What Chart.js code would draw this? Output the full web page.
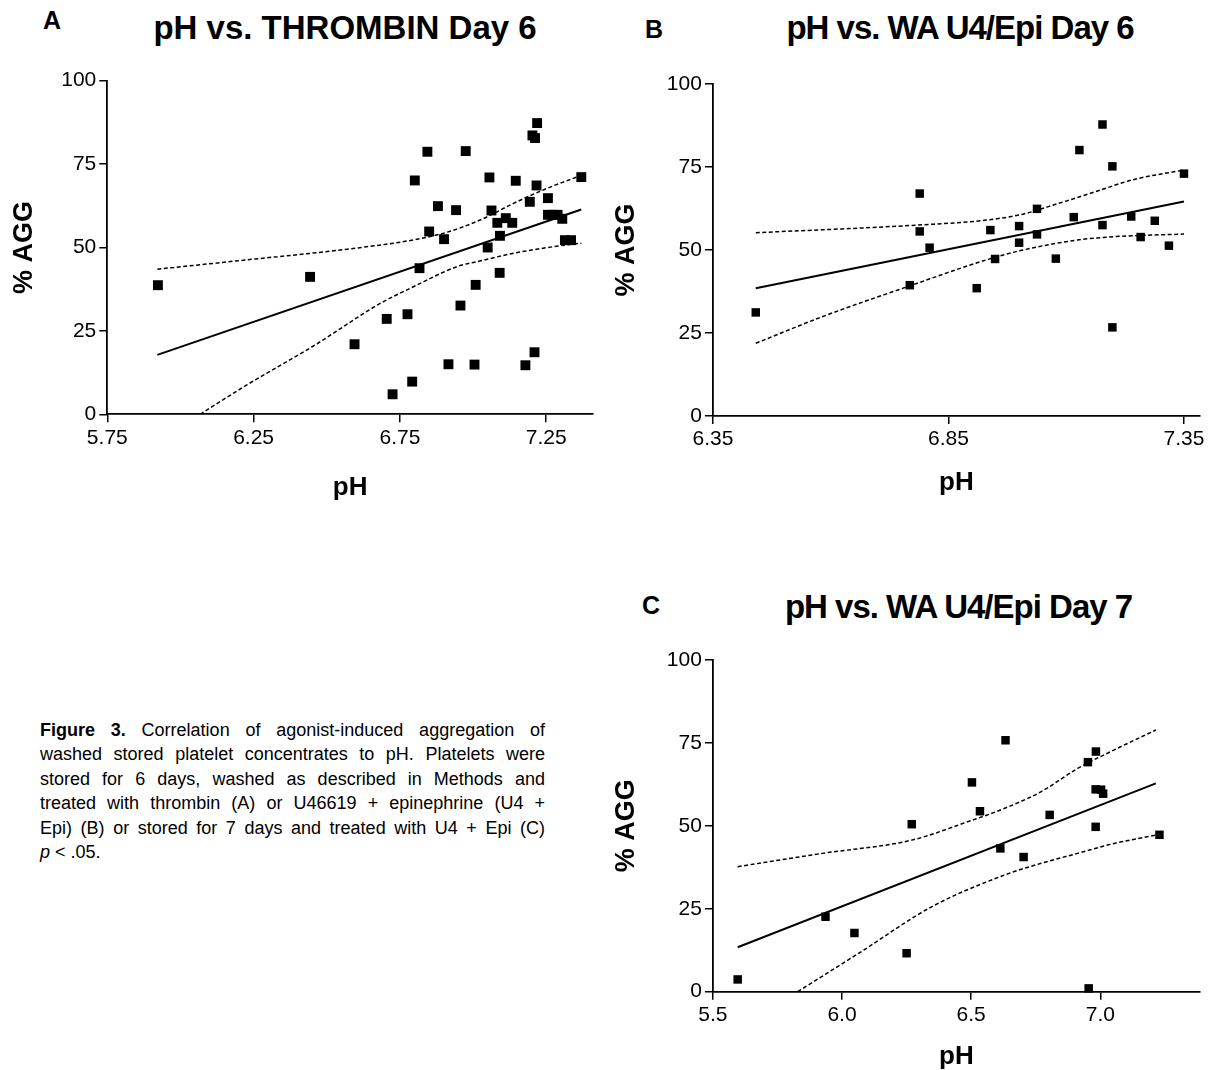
<!DOCTYPE html>
<html>
<head>
<meta charset="utf-8">
<title>pH vs. % AGG</title>
<script src="https://cdn.jsdelivr.net/npm/chart.js@4.4.1/dist/chart.umd.min.js"></script>
<style>
  html, body { margin: 0; padding: 0; background: #fff; }
  body { width: 1209px; height: 1070px; position: relative; overflow: hidden;
         font-family: 'Liberation Sans', Arial, Helvetica, sans-serif; color: #000; }
  canvas { position: absolute; }
  .ttl { position: absolute; font-size: 33px; font-weight: bold; line-height: 33px;
         white-space: nowrap; transform: translateX(-50%); }
  .ttl.tight { letter-spacing: -1px; }
  .lbl { position: absolute; font-weight: bold; font-size: 25px; line-height: 1; }
  #caption { position: absolute; left: 40px; top: 717.7px; width: 505px;
             font-size: 18px; line-height: 24.5px; }
  #caption div { text-align: justify; text-align-last: justify; }
  #caption div.last { text-align-last: left; }
</style>
</head>
<body>

<div class="lbl" style="left:43px; top:7.7px;">A</div>
<div class="ttl" style="left:345px; top:10.7px;">pH vs. THROMBIN Day 6</div>
<canvas id="chartA" width="603" height="510" style="left:0; top:0;"></canvas>

<div class="lbl" style="left:645px; top:16.7px;">B</div>
<div class="ttl tight" style="left:960px; top:10.7px;">pH vs. WA U4/Epi Day 6</div>
<canvas id="chartB" width="609" height="470" style="left:600px; top:40px;"></canvas>

<div class="lbl" style="left:642px; top:592.7px;">C</div>
<div class="ttl tight" style="left:958.5px; top:589.7px;">pH vs. WA U4/Epi Day 7</div>
<canvas id="chartC" width="609" height="450" style="left:600px; top:620px;"></canvas>

<div id="caption">
  <div><b>Figure 3.</b> Correlation of agonist-induced aggregation of</div>
  <div>washed stored platelet concentrates to pH. Platelets were</div>
  <div>stored for 6 days, washed as described in Methods and</div>
  <div>treated with thrombin (A) or U46619 + epinephrine (U4 +</div>
  <div>Epi) (B) or stored for 7 days and treated with U4 + Epi (C)</div>
  <div class="last"><i>p</i> &lt; .05.</div>
</div>

<script>
// ---- panel A: thrombin, day 6 ----
const phA  = [5.923, 6.443, 6.595, 6.705, 6.725, 6.776, 6.792, 6.801, 6.817, 6.844,
              6.850, 6.880, 6.901, 6.916, 6.942, 6.957, 6.975, 7.005, 7.009, 7.050,
              7.056, 7.063, 7.083, 7.091, 7.092, 7.112, 7.134, 7.146, 7.179, 7.194,
              7.210, 7.217, 7.219, 7.203, 7.212, 7.256, 7.256, 7.272, 7.289, 7.305,
              7.314, 7.335, 7.370];
const aggA = [38.7, 41.2, 21.0, 28.6, 6.0, 30.0, 9.8, 70.1, 43.8, 78.7,
              54.8, 62.4, 52.5, 15.0, 61.2, 32.6, 78.9, 14.9, 38.8, 50.0,
              71.0, 61.1, 57.4, 42.4, 53.5, 58.8, 57.4, 70.0, 14.7, 63.7,
              18.6, 68.6, 87.3, 83.6, 82.8, 64.8, 59.8, 59.8, 59.8, 58.6,
              52.2, 52.2, 71.1];
const fitPhA = [5.921, 7.370];
const fitA   = [17.8, 61.4];
const upperPhA = [5.921, 6.227, 6.570, 6.798, 6.912, 7.026, 7.140, 7.255, 7.370];
const upperA   = [43.5, 46.3, 49.5, 52.3, 54.6, 58.3, 63.3, 67.8, 71.6];
const lowerPhA = [6.067, 6.227, 6.455, 6.684, 6.798, 6.946, 7.026, 7.140, 7.312, 7.370];
const lowerA   = [0, 8.8, 20.5, 33.3, 38.3, 44.3, 46.0, 48.3, 50.7, 51.3];
const ticksXA  = [5.75, 6.25, 6.75, 7.25];

// ---- panel B: WA U4/Epi, day 6 ----
const phB  = [6.441, 6.768, 6.789, 6.789, 6.810, 6.910, 6.939, 6.949, 7.000, 7.000,
              7.038, 7.038, 7.078, 7.116, 7.128, 7.177, 7.177, 7.198, 7.198, 7.238,
              7.258, 7.288, 7.318, 7.350];
const aggB = [31.2, 39.4, 67.0, 55.6, 50.7, 38.5, 56.0, 47.3, 57.2, 52.2,
              62.4, 54.7, 47.4, 59.9, 80.1, 57.5, 87.8, 75.2, 26.7, 60.1,
              53.9, 58.8, 51.3, 73.0];
const fitPhB = [6.441, 7.350];
const fitB   = [38.5, 64.6];
const upperPhB = [6.441, 6.783, 6.930, 7.008, 7.085, 7.163, 7.240, 7.350];
const upperB   = [55.2, 57.5, 59.0, 60.8, 64.1, 67.6, 71.1, 74.1];
const lowerPhB = [6.441, 6.582, 6.768, 6.930, 7.008, 7.124, 7.201, 7.350];
const lowerB   = [21.9, 29.9, 39.2, 47.0, 50.0, 53.0, 54.0, 54.8];
const ticksXB  = [6.35, 6.85, 7.35];

// ---- panel C: WA U4/Epi, day 7 ----
const phC  = [5.596, 5.936, 6.048, 6.250, 6.270, 6.503, 6.534, 6.613, 6.633, 6.703,
              6.804, 6.952, 6.955, 6.983, 6.982, 6.982, 7.003, 7.011, 7.229];
const aggC = [3.7, 22.6, 17.7, 11.6, 50.5, 63.1, 54.4, 43.2, 75.8, 40.6,
              53.3, 69.2, 1.0, 72.4, 61.0, 49.7, 60.9, 59.7, 47.3];
const fitPhC = [5.596, 7.215];
const fitC   = [13.4, 62.8];
const upperPhC = [5.596, 5.924, 6.270, 6.489, 6.630, 6.771, 6.912, 7.054, 7.215];
const upperC   = [37.7, 41.7, 45.7, 51.3, 55.3, 60.3, 67.3, 72.9, 78.9];
const lowerPhC = [5.828, 6.065, 6.347, 6.630, 6.771, 6.912, 7.054, 7.215];
const lowerC   = [0, 11.6, 25.6, 35.2, 38.7, 41.7, 44.7, 47.2];
const ticksXC  = [5.5, 6.0, 6.5, 7.0];

const ticksY = [0, 25, 50, 75, 100];

Chart.defaults.font.family = "'Liberation Sans', Arial, Helvetica, sans-serif";
Chart.defaults.color = '#000';

function pts(xs, ys) {
  return xs.map((x, i) => ({ x: x, y: ys[i] }));
}

function makeChart(id, p) {
  const dashed = {
    type: 'line', showLine: true, pointRadius: 0, borderColor: '#000',
    borderWidth: 1.5, borderDash: [4, 2.5], cubicInterpolationMode: 'monotone', fill: false
  };
  new Chart(document.getElementById(id), {
    type: 'scatter',
    data: {
      datasets: [
        { data: pts(p.ph, p.agg), pointStyle: 'rect', pointRadius: p.r,
          backgroundColor: '#000', borderColor: '#000', borderWidth: 0, clip: false },
        { type: 'line', data: pts(p.fitPh, p.fit), showLine: true, pointRadius: 0,
          borderColor: '#000', borderWidth: 2, fill: false },
        Object.assign({ data: pts(p.upPh, p.up) }, dashed),
        Object.assign({ data: pts(p.loPh, p.lo) }, dashed)
      ]
    },
    options: {
      responsive: false,
      animation: false,
      events: [],
      layout: { padding: { top: p.padTop, right: p.padRight, left: 0, bottom: 0 } },
      plugins: { legend: { display: false }, tooltip: { enabled: false } },
      scales: {
        x: {
          type: 'linear', min: p.xMin, max: p.xMax,
          afterBuildTicks: s => { s.ticks = p.xTicks.map(v => ({ value: v })); },
          afterFit: s => { s.height = p.xH; },
          ticks: { font: { size: 21 }, color: '#000', padding: 3,
                   callback: v => v.toFixed(p.dec) },
          grid: { drawOnChartArea: false, drawTicks: true, tickLength: 8, color: '#000', lineWidth: 1.5 },
          border: { display: true, color: '#000', width: 1.8 },
          title: { display: true, text: 'pH', color: '#000',
                   font: { size: 26, weight: 'bold', lineHeight: 1 },
                   padding: { top: 0, bottom: p.xTitlePad } }
        },
        y: {
          type: 'linear', min: 0, max: 100,
          afterBuildTicks: s => { s.ticks = ticksY.map(v => ({ value: v })); },
          afterFit: s => { s.width = p.yW; },
          ticks: { font: { size: 21 }, color: '#000', padding: 3 },
          grid: { drawOnChartArea: false, drawTicks: true, tickLength: 8, color: '#000', lineWidth: 1.5 },
          border: { display: true, color: '#000', width: 1.8 },
          title: { display: true, text: '% AGG', color: '#000',
                   font: { size: 27, weight: 'bold', lineHeight: 1 },
                   padding: { top: p.yTitlePad, bottom: 0 } }
        }
      }
    }
  });
}

makeChart('chartA', {
  ph: phA, agg: aggA, fitPh: fitPhA, fit: fitA, upPh: upperPhA, up: upperA,
  loPh: lowerPhA, lo: lowerA, xTicks: ticksXA, dec: 2, r: 7,
  xMin: 5.75, xMax: 7.41, padTop: 80.7, padRight: 10, yW: 107.3, xH: 95.7,
  yTitlePad: 11.5, xTitlePad: 9
});
makeChart('chartB', {
  ph: phB, agg: aggB, fitPh: fitPhB, fit: fitB, upPh: upperPhB, up: upperB,
  loPh: lowerPhB, lo: lowerB, xTicks: ticksXB, dec: 2, r: 6,
  xMin: 6.35, xMax: 7.384, padTop: 44, padRight: 9, yW: 112.9, xH: 94,
  yTitlePad: 13.5, xTitlePad: 14
});
makeChart('chartC', {
  ph: phC, agg: aggC, fitPh: fitPhC, fit: fitC, upPh: upperPhC, up: upperC,
  loPh: lowerPhC, lo: lowerC, xTicks: ticksXC, dec: 1, r: 6,
  xMin: 5.5, xMax: 7.386, padTop: 40, padRight: 9, yW: 112.9, xH: 78.3,
  yTitlePad: 13.5, xTitlePad: 0
});
</script>
</body>
</html>
